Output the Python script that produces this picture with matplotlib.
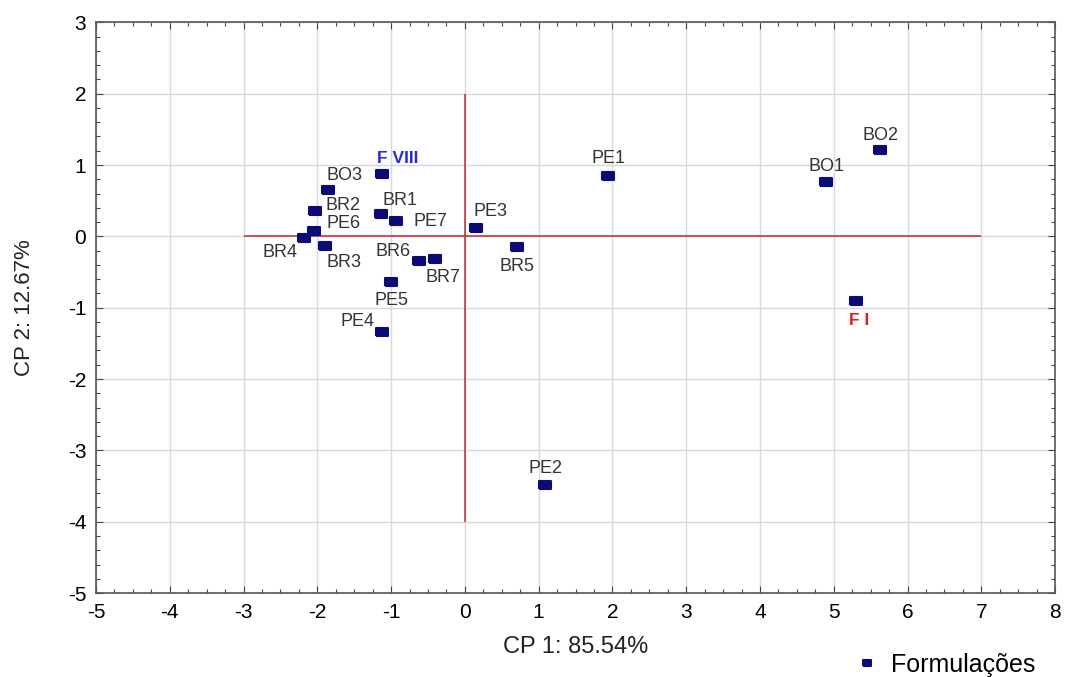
import numpy as np
import matplotlib
matplotlib.use("Agg")
import matplotlib.pyplot as plt
from matplotlib.ticker import MultipleLocator
from matplotlib.markers import MarkerStyle

# PCA scores
names = ["BO2", "BO1", "PE1", "F I", "PE2", "F VIII", "BO3", "BR2", "BR1", "PE7",
         "PE3", "PE6", "BR4", "BR3", "BR6", "BR7", "BR5", "PE5", "PE4"]
cp1 = [5.63, 4.90, 1.94, 5.30, 1.09, -1.13, -1.86, -2.03, -1.14, -0.93,
       0.15, -2.05, -2.18, -1.89, -0.62, -0.41, 0.71, -1.00, -1.13]
cp2 = [1.21, 0.76, 0.84, -0.90, -3.49, 0.87, 0.65, 0.36, 0.32, 0.21,
       0.12, 0.08, -0.03, -0.13, -0.34, -0.32, -0.15, -0.64, -1.34]

xlabel = "CP 1: 85.54%"
ylabel = "CP 2: 12.67%"
legend_label = "Formulações"

# label offsets in pixels (dx, dy) and colours
offsets = {"BO2": (0, 15), "BO1": (0, 16), "PE1": (0, 18), "F I": (3, -20),
           "PE2": (0, 17), "F VIII": (16, 16), "BO3": (17, 14), "BR2": (28, 5),
           "BR1": (19, 13), "PE7": (34, 0), "PE3": (15, 16), "PE6": (30, 7),
           "BR4": (-24, -14), "BR3": (19, -17), "BR6": (-26, 9), "BR7": (8, -18),
           "BR5": (0, -19), "PE5": (0, -18), "PE4": (-24, 10)}
special = {"F I": "#e02020", "F VIII": "#2a2ad0"}

plt.rcParams["font.family"] = ["Liberation Sans", "DejaVu Sans"]
plt.rcParams["axes.unicode_minus"] = False

fig = plt.figure(figsize=(10.68, 6.77), dpi=100)
ax = fig.add_axes([0.0899, 0.124, 0.898, 0.843])

rect = [(-1.35, -1), (1.35, -1), (1.35, 1), (-1.35, 1), (-1.35, -1)]
marker = MarkerStyle(rect, joinstyle="round")
navy = "#0b0b78"
ax.plot(cp1, cp2, linestyle="none", marker=marker, markersize=8.5,
        color=navy, markeredgecolor=navy, markeredgewidth=1.5,
        markerfacecolor=navy, zorder=5, label=legend_label)

for n, x, y in zip(names, cp1, cp2):
    dx, dy = offsets[n]
    if n in special:
        ax.annotate(n, (x, y), xytext=(dx, dy), textcoords="offset pixels",
                    ha="center", va="center", fontsize=12.5, fontweight="bold",
                    color=special[n])
    else:
        ax.annotate(n, (x, y), xytext=(dx, dy), textcoords="offset pixels",
                    ha="center", va="center", fontsize=13, color="#333333")

# reference cross
ax.hlines(0, -3, 7, color="#c0282c", lw=1.1, zorder=3)
ax.vlines(0, -4, 2, color="#c0282c", lw=1.1, zorder=3)

ax.set_xlim(-5, 8)
ax.set_ylim(-5, 3)
ax.xaxis.set_major_locator(MultipleLocator(1))
ax.xaxis.set_minor_locator(MultipleLocator(0.25))
ax.yaxis.set_major_locator(MultipleLocator(1))
ax.yaxis.set_minor_locator(MultipleLocator(0.2))
ax.grid(True, which="major", color="#d8d8d8", lw=1.0)
ax.set_axisbelow(True)
ax.tick_params(which="both", direction="in", top=True, right=True,
               colors="#444444", labelcolor="#000000", labelsize=15, width=0.8)
ax.tick_params(which="major", length=5, pad=7)
ax.tick_params(which="minor", length=3)
for s in ax.spines.values():
    s.set_color("#555555")
    s.set_linewidth(1.2)

ax.set_xlabel(xlabel, fontsize=17, color="#222222")
ax.set_ylabel(ylabel, fontsize=16, color="#222222")
ax.xaxis.set_label_coords(0.5, -0.075)
ax.yaxis.set_label_coords(-0.064, 0.5)

ax.legend(loc="center left", bbox_to_anchor=(856 / 1068, 1 - 665 / 677),
          bbox_transform=fig.transFigure, frameon=False, fontsize=18,
          handlelength=0.9, handletextpad=0.5, borderpad=0, borderaxespad=0,
          markerscale=0.75)

fig.savefig("out.png", dpi=100, facecolor="white")
